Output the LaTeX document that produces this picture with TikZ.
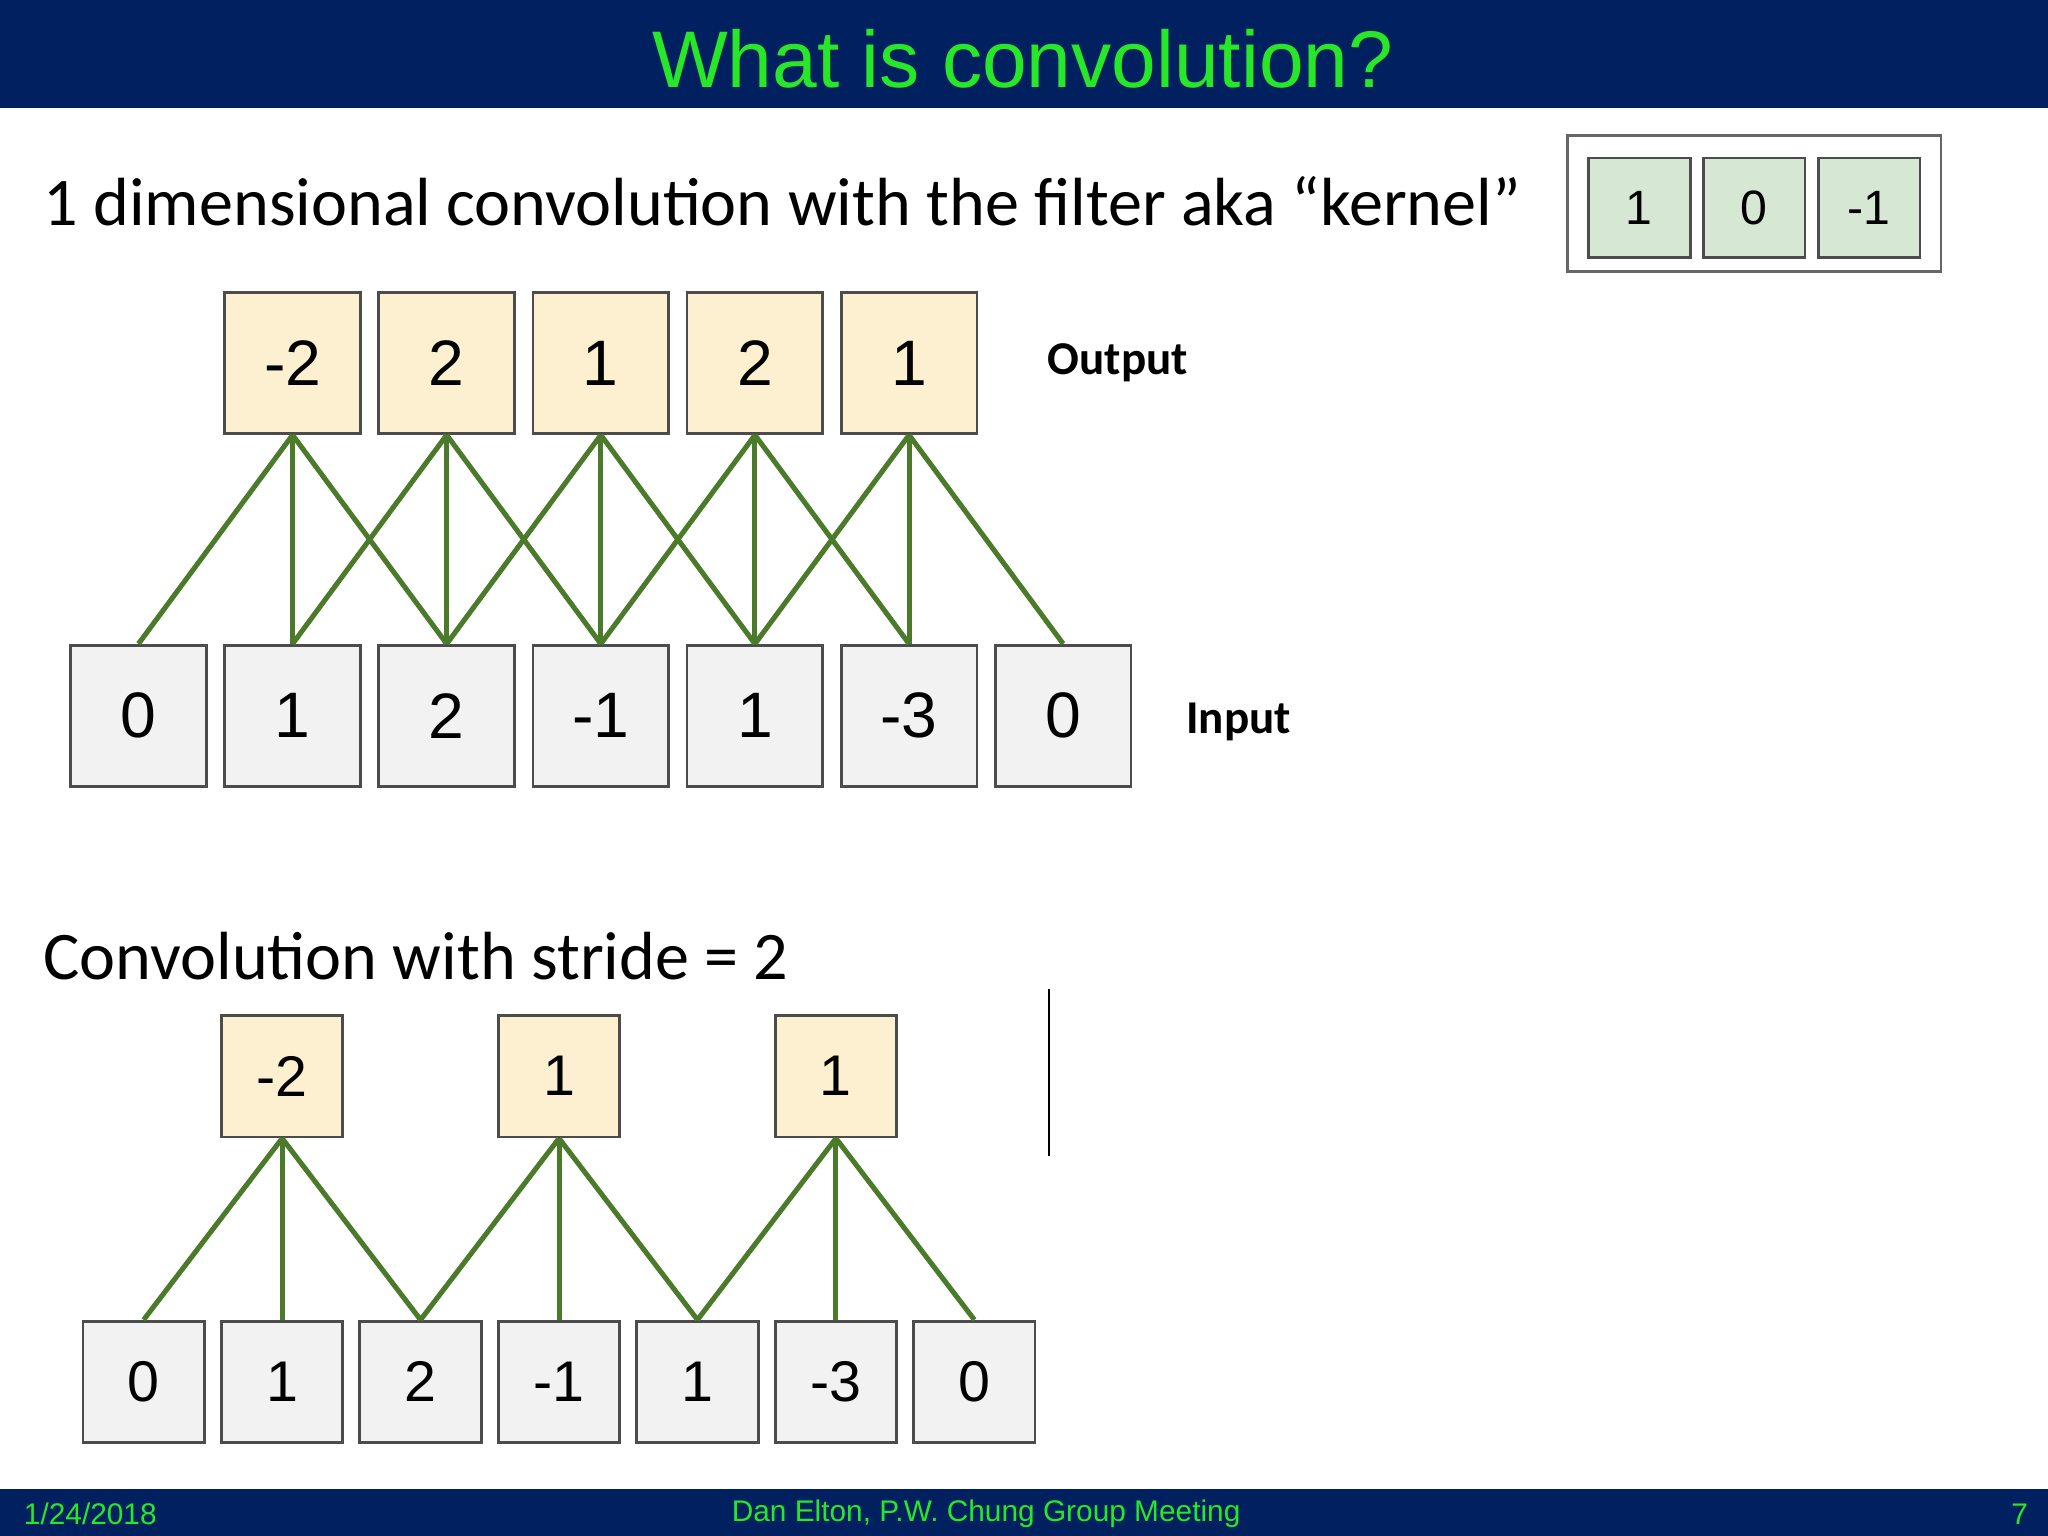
\documentclass[tikz,border=0pt]{standalone}
\usepackage{fontspec}
\setmainfont{Carlito}
\newfontfamily\arialf{Liberation Sans}
\usetikzlibrary{positioning}
\definecolor{navy}{RGB}{0,32,96}
\definecolor{slidegreen}{RGB}{40,230,40}
\definecolor{outfill}{RGB}{252,240,208}
\definecolor{infill}{RGB}{242,242,242}
\definecolor{kerfill}{RGB}{214,232,212}
\definecolor{linkgreen}{RGB}{74,122,42}
\tikzset{
  cell/.style={draw=black!70, line width=1.2pt, minimum width=2.08cm, minimum height=2.16cm,
    inner sep=0pt, font=\arialf\fontsize{28}{28}\selectfont},
  smallcell/.style={cell, minimum width=1.86cm, minimum height=1.86cm,
    font=\arialf\fontsize{25}{25}\selectfont},
  outcell/.style={fill=outfill},
  incell/.style={fill=infill},
  kercell/.style={cell, fill=kerfill, minimum width=1.56cm, minimum height=1.52cm,
    font=\arialf\fontsize{21}{21}\selectfont},
  link/.style={draw=linkgreen, line width=2.2pt},
  body/.style={font=\fontsize{29.7}{29.7}\selectfont, anchor=base west, inner sep=0pt},
  foot/.style={font=\arialf\fontsize{13}{13}\selectfont, text=slidegreen, inner sep=0pt}
}
\begin{document}
\begin{tikzpicture}[x=0.02cm, y=-0.02cm]
  \useasboundingbox[fill=white] (0,0) rectangle (1568,1176);
  % title and footer bars
  \fill[navy] (0,0) rectangle (1568,83);
  \node[font=\arialf\fontsize{35}{35}\selectfont, text=slidegreen] (title) at (783,45) {What is convolution?};
  \fill[navy] (0,1140) rectangle (1568,1176);
  \node[foot, anchor=west] (date) at (18,1159) {1/24/2018};
  \node[foot] (meeting) at (755,1159) {Dan Elton, P.W. Chung Group Meeting};
  \node[foot, anchor=east] (page) at (1553,1159) {7};

  % first example
  \node[body] (sub1) at (33,173) {1 dimensional convolution with the filter aka “kernel”};
  \draw[black!60, line width=1.2pt] (1200,104) rectangle (1486,208);
  \foreach \v [count=\i] in {1,0,-1}
    \node[kercell] (k\i) at (1255+88*\i-88,159) {\v};

  \foreach \v [count=\i] in {-2,2,1,2,1}
    \node[cell, outcell] (o\i) at (106+118*\i,278) {\v};
  \foreach \v [count=\i] in {0,1,2,-1,1,-3,0}
    \node[cell, incell] (n\i) at (-12+118*\i,548) {\v};
  \foreach \i in {1,...,5}
    \foreach \j in {0,1,2}{
      \pgfmathtruncatemacro\k{\i+\j}
      \draw[link] (o\i.south) -- (n\k.north);
    }
  \node[font=\bfseries\fontsize{20.5}{20.5}\selectfont, anchor=west] (outlab) at (796,278) {Output};
  \node[font=\bfseries\fontsize{20.5}{20.5}\selectfont, anchor=west] (inlab) at (902,553) {Input};

  % stride example
  \node[body] (sub2) at (33,750) {Convolution with stride = 2};
  \draw[black, line width=1pt] (803,757) -- (803,885);
  \foreach \v [count=\i] in {-2,1,1}
    \node[smallcell, outcell] (s\i) at (4+212*\i,824) {\v};
  \foreach \v [count=\i] in {0,1,2,-1,1,-3,0}
    \node[smallcell, incell] (t\i) at (4+106*\i,1058) {\v};
  \foreach \i in {1,2,3}
    \foreach \j in {0,1,2}{
      \pgfmathtruncatemacro\k{2*\i-1+\j}
      \draw[link] (s\i.south) -- (t\k.north);
    }
\end{tikzpicture}
\end{document}
